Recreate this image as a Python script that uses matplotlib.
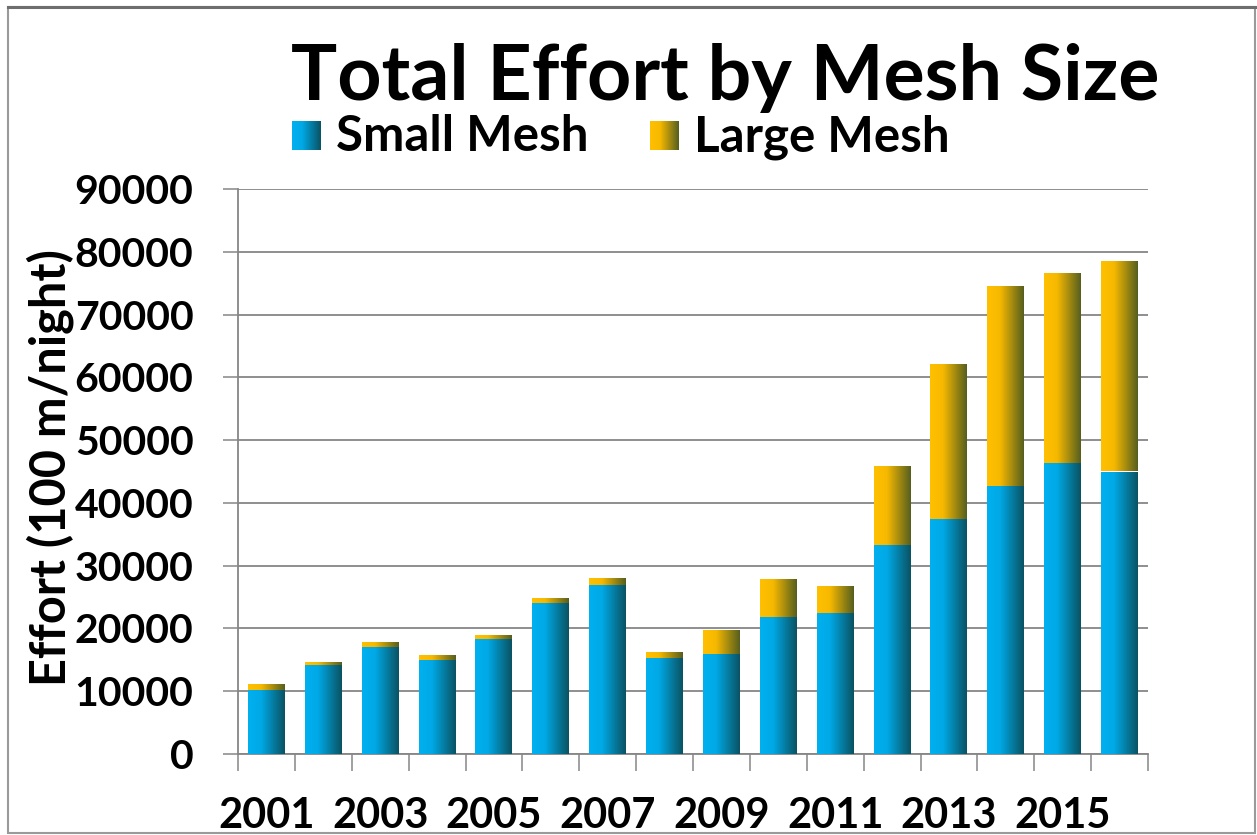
import numpy as np
import matplotlib
matplotlib.use("Agg")
from matplotlib import pyplot as plt
from matplotlib.colors import LinearSegmentedColormap
from matplotlib.patches import Rectangle
from matplotlib.lines import Line2D

plt.rcParams['font.family'] = ['Lato', 'DejaVu Sans']
plt.rcParams['font.weight'] = 'bold'

years = list(range(2001, 2017))
small_mesh = [10200, 14200, 17100, 14900, 18300, 24000, 26900, 15300,
              15900, 21800, 22400, 33300, 37400, 42700, 46300, 45000]
large_mesh = [1000, 500, 800, 800, 600, 800, 1200, 1000,
              3900, 6100, 4300, 12600, 24700, 31800, 30300, 33600]
y_ticks = [0, 10000, 20000, 30000, 40000, 50000, 60000, 70000, 80000, 90000]

# horizontal shading used on every bar
blue_cmap = LinearSegmentedColormap.from_list(
    "blue", [(0, "#00B0F0"), (0.35, "#00A9E6"), (1, "#0A5262")])
gold_cmap = LinearSegmentedColormap.from_list(
    "gold", [(0, "#FFC000"), (0.35, "#F7B900"), (1, "#555E1F")])
gradient = np.linspace(0, 1, 256).reshape(1, -1)

grid_col = "#868686"

fig = plt.figure(figsize=(12.57, 8.35), dpi=100)
ax = fig.add_axes([238 / 1257, 81 / 835, 910 / 1257, 565 / 835])

x = np.arange(len(years))
b1 = ax.bar(x, small_mesh, width=0.65, color="none", zorder=3)
b2 = ax.bar(x, large_mesh, width=0.65, bottom=small_mesh, color="none", zorder=3)


def shade(bars, cmap):
    for bar in bars:
        x0, y0 = bar.get_x(), bar.get_y()
        im = ax.imshow(gradient, cmap=cmap, aspect="auto", zorder=3,
                       extent=(x0, x0 + bar.get_width(), y0, y0 + bar.get_height()),
                       interpolation="bilinear")
        im.set_clip_path(bar)


shade(b1, blue_cmap)
shade(b2, gold_cmap)

ax.set_xlim(-0.5, len(years) - 0.5)
ax.set_ylim(0, 90000)

# ticks between categories, labels on odd years
ax.set_xticks(np.arange(-0.5, len(years), 1.0))
ax.set_xticklabels([])
ax.tick_params(axis="x", which="major", direction="out", length=12.5,
               width=1.1, color=grid_col)
ax.set_xticks(x[::2], minor=True)
ax.set_xticklabels([str(y) for y in years[::2]], minor=True)
ax.tick_params(axis="x", which="minor", length=0, pad=31, labelsize=30)

ax.set_yticks(y_ticks)
ax.set_yticklabels([str(v) for v in y_ticks])
ax.tick_params(axis="y", direction="out", length=11, width=1.1,
               color=grid_col, pad=21, labelsize=29.5)

ax.grid(axis="y", color=grid_col, linewidth=1.3, zorder=0)
ax.set_axisbelow(True)
for side in ["top", "right"]:
    ax.spines[side].set_visible(False)
for side in ["left", "bottom"]:
    ax.spines[side].set_color(grid_col)
    ax.spines[side].set_linewidth(1.3)

fig.text(50 / 1257, 1 - 468 / 835, "Effort (100 m/night)", rotation=90,
         ha="center", va="center", fontsize=35, fontweight="bold")

fig.text(725 / 1257, 1 - 100 / 835, "Total Effort by Mesh Size",
         ha="center", va="baseline", fontsize=55.5, fontweight="bold")

# legend: shaded squares plus labels
for left, label, cmap in [(292, "Small Mesh", blue_cmap), (650, "Large Mesh", gold_cmap)]:
    lax = fig.add_axes([left / 1257, 1 - 150 / 835, 29 / 1257, 29 / 835])
    lax.imshow(gradient, cmap=cmap, aspect="auto", interpolation="bilinear")
    lax.set_axis_off()
    fig.text((left + 44) / 1257, 1 - 151 / 835, label, ha="left",
             va="baseline", fontsize=35.5, fontweight="bold")

# outer chart frame
fig.add_artist(Rectangle((8 / 1257, 2 / 835), 1247 / 1257, 826.5 / 835,
                         transform=fig.transFigure, fill=False,
                         edgecolor="#9a9a9a", linewidth=1.5, zorder=10))
fig.add_artist(Line2D([8 / 1257, 1255 / 1257], [1 - 6.5 / 835, 1 - 6.5 / 835],
                      transform=fig.transFigure, color="#6e6e6e",
                      linewidth=2.2, zorder=11))

fig.savefig("out.png", dpi=100, facecolor="white")
